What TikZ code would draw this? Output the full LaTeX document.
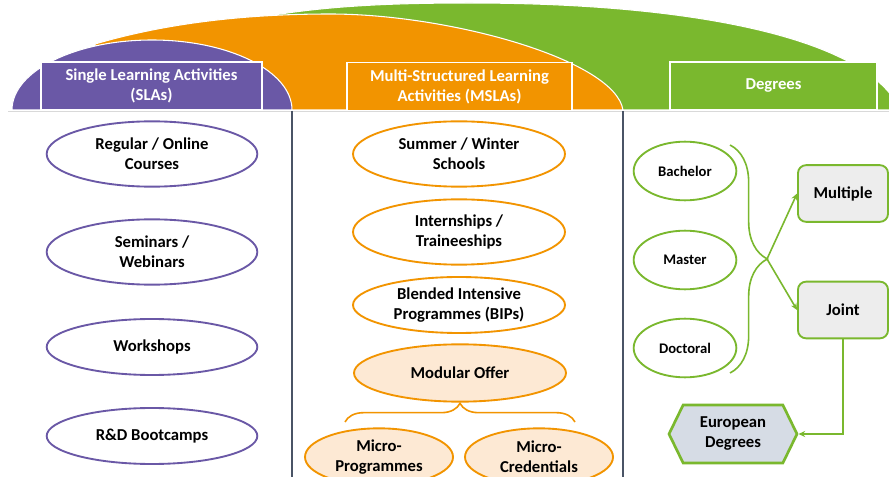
\documentclass[tikz,border=0pt]{standalone}
\usepackage{fontspec}
\setmainfont{Carlito}
\usetikzlibrary{shapes.geometric,shapes.symbols,arrows.meta,decorations.pathreplacing}
\definecolor{slacol}{HTML}{6A58A6}
\definecolor{mslacol}{HTML}{F29400}
\definecolor{degcol}{HTML}{7AB82E}
\definecolor{modfill}{HTML}{FDE9D4}
\definecolor{boxfill}{HTML}{EDEDED}
\definecolor{eufill}{HTML}{D6DCE5}
\definecolor{sepcol}{HTML}{4A5466}
\tikzset{   head/.style = {rectangle, draw = white, line width = 0.8pt, text = white, align = center, minimum height = 36pt, font = \bfseries\fontsize{12.5}{15}\selectfont},
            sla/.style = {ellipse, draw = slacol, line width = 1.4pt, fill = white, minimum width = 158pt, minimum height = 49pt, inner sep = 0pt, align = center, font = \bfseries\fontsize{12.5}{15}\selectfont},
            msla/.style = {ellipse, draw = mslacol, line width = 1.4pt, fill = white, minimum width = 159pt, minimum height = 49pt, inner sep = 0pt, align = center, font = \bfseries\fontsize{12.5}{15}\selectfont},
            deg/.style = {ellipse, draw = degcol, line width = 1.4pt, fill = white, minimum width = 77pt, minimum height = 44pt, inner sep = 0pt, align = center, font = \bfseries\fontsize{11}{13}\selectfont},
            degbox/.style = {rectangle, rounded corners = 6pt, draw = degcol, line width = 1.4pt, fill = boxfill, minimum width = 67.5pt, minimum height = 42.5pt, align = center, font = \bfseries\fontsize{12.5}{15}\selectfont},
            degline/.style = {draw = degcol, line width = 1.2pt},
            degarrow/.style = {draw = degcol, line width = 1.2pt, -{Stealth[length = 5pt, width = 4.5pt]}}}
\begin{document}
\begin{tikzpicture}[x = 0.75pt, y = -0.75pt]
                        \useasboundingbox (0,0) rectangle (889,477);
                        \fill[white] (0,0) rectangle (889,477);
                        \fill[degcol, draw = white, line width = 0.8pt] (262,17) .. controls (330,5) and (400,3) .. (470,3) .. controls (700,3) and (870,40) .. (900,110) -- (262,110) -- cycle;
                        \fill[mslacol, draw = white, line width = 0.8pt] (95,44) .. controls (170,22) and (250,14) .. (330,14) .. controls (450,14) and (615,60) .. (623,110) -- (95,110) -- cycle;
                        \fill[slacol, draw = white, line width = 0.8pt] (12,110) arc[start angle = 180, end angle = 360, x radius = 140, y radius = 70] -- cycle;
                        \node[head, fill = slacol, minimum width = 165.75pt] (slahead) at (151.5,86) {Single Learning Activities\\(SLAs)};
                        \node[head, fill = mslacol, minimum width = 168.75pt] (mslahead) at (459.5,86.5) {Multi-Structured Learning\\Activities (MSLAs)};
                        \node[head, fill = degcol, minimum width = 155.25pt] (deghead) at (773.5,86) {Degrees};
                        \draw[black!15, line width = 0.6pt] (8,111.5) -- (889,111.5);
                        \draw[sepcol, line width = 1.3pt] (292,111) -- (292,477);
                        \draw[sepcol, line width = 1.3pt] (623,111) -- (623,477);

                        \node[sla] (courses) at (152,154) {Regular / Online\\Courses};
                        \node[sla] (seminars) at (152,252) {Seminars /\\Webinars};
                        \node[sla, minimum height = 42pt] (workshops) at (152,347) {Workshops};
                        \node[sla, minimum height = 42pt] (bootcamps) at (152,436) {R\&D Bootcamps};

                        \node[msla] (schools) at (459,154) {Summer / Winter\\Schools};
                        \node[msla] (intern) at (459,232) {Internships /\\Traineeships};
                        \node[msla, minimum height = 42pt] (bips) at (459,305) {Blended Intensive\\Programmes (BIPs)};
                        \node[msla, minimum height = 43pt, fill = modfill] (modular) at (460,373) {Modular Offer};
                        \node[msla, minimum width = 111pt, minimum height = 43pt, fill = modfill] (microprog) at (379,457) {Micro-\\Programmes};
                        \node[msla, minimum width = 111pt, minimum height = 43pt, fill = modfill] (microcred) at (539,457) {Micro-\\Credentials};
                        \coordinate (modleft) at (345,422);
                        \coordinate (modright) at (575,422);
                        \draw[draw = mslacol, line width = 1.2pt, decorate, decoration = {brace, amplitude = 14pt}] (modleft) -- (modright);

                        \node[deg] (bachelor) at (685,171) {Bachelor};
                        \node[deg] (master) at (685,260) {Master};
                        \node[deg] (doctoral) at (685,348) {Doctoral};
                        \node[degbox] (multiple) at (843,193.5) {Multiple};
                        \node[degbox] (joint) at (843,310) {Joint};
                        \node[signal, signal to = east and west, signal pointer angle = 128, draw = degcol, line width = 2pt, fill = eufill, minimum width = 96pt, minimum height = 43.5pt, inner sep = 0pt, align = center, font = \bfseries\fontsize{12.5}{15}\selectfont] (european) at (733,434) {European\\Degrees};
                        \coordinate (degtop) at (730,145);
                        \coordinate (degbottom) at (730,373);
                        \coordinate (degtip) at (767,259);
                        \draw[degline, decorate, decoration = {brace, amplitude = 28pt}] (degtop) -- (degbottom);
                        \draw[degarrow] (degtip) -- (multiple.west);
                        \draw[degarrow] (degtip) -- (joint.west);
                        \draw[degarrow] (joint.south) |- (european.east);
                      \end{tikzpicture}
\end{document}
